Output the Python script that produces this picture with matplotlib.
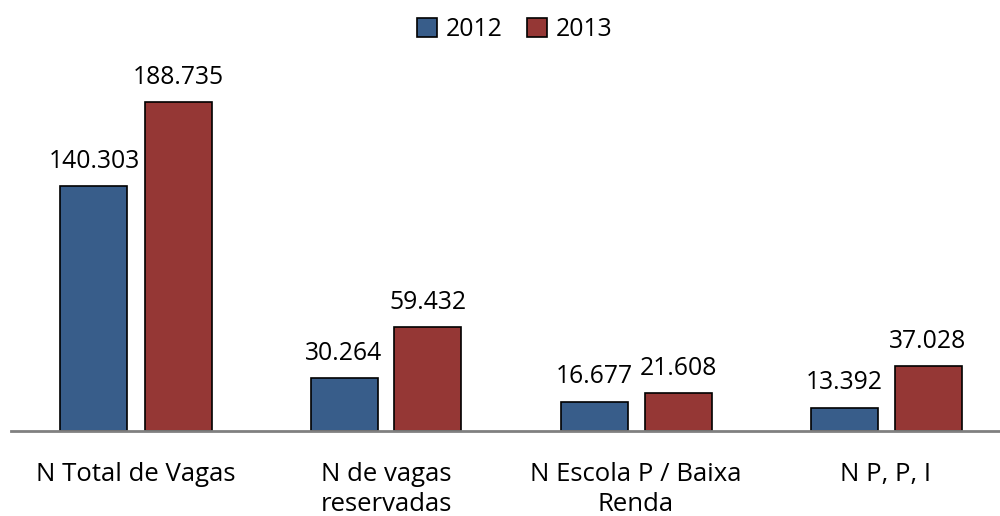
import matplotlib.pyplot as plt
import numpy as np

categories = ['N Total de Vagas', 'N de vagas\nreservadas', 'N Escola P / Baixa\nRenda', 'N P, P, I']
vals_2012 = [140303, 30264, 16677, 13392]
vals_2013 = [188735, 59432, 21608, 37028]
labels_2012 = ['140.303', '30.264', '16.677', '13.392']
labels_2013 = ['188.735', '59.432', '21.608', '37.028']

plt.rcParams['font.family'] = ['Open Sans', 'DejaVu Sans']

fig = plt.figure(figsize=(10, 5.16), dpi=100)
# axes: x from 11px to 1000px, bottom at 431px, top at 60px
ax = fig.add_axes([0.011, (516 - 431) / 516, 0.989, (431 - 60) / 516])

x = np.arange(len(categories))
w = 0.268
off = (w + 0.068) / 2
blue = '#385D8A'
red = '#953735'

b1 = ax.bar(x - off, vals_2012, w, color=blue, edgecolor='black', linewidth=1.2, label='2012')
b2 = ax.bar(x + off, vals_2013, w, color=red, edgecolor='black', linewidth=1.2, label='2013')

for bars, labs in ((b1, labels_2012), (b2, labels_2013)):
    for r, t in zip(bars, labs):
        ax.annotate(t, (r.get_x() + r.get_width() / 2, r.get_height()),
                    xytext=(0, 9), textcoords='offset points',
                    ha='center', va='bottom', fontsize=17.8)

ax.set_xlim(-0.5, 3.5 - 11 / 250)
ax.set_ylim(0, 188735 * 371 / 329)

for s in ['top', 'right', 'left']:
    ax.spines[s].set_visible(False)
ax.spines['bottom'].set_color('#808080')
ax.spines['bottom'].set_linewidth(2)
ax.set_yticks([])
ax.set_xticks(x)
ax.set_xticklabels(categories, fontsize=18.5, linespacing=1.3)
ax.tick_params(axis='x', length=0, pad=22)

fig.legend(loc='upper center', bbox_to_anchor=(0.515, 1.01), ncol=2, frameon=False,
           fontsize=17.8, handlelength=0.8, handleheight=0.8, handletextpad=0.35,
           columnspacing=1.0)

fig.savefig('out.png', dpi=100)
